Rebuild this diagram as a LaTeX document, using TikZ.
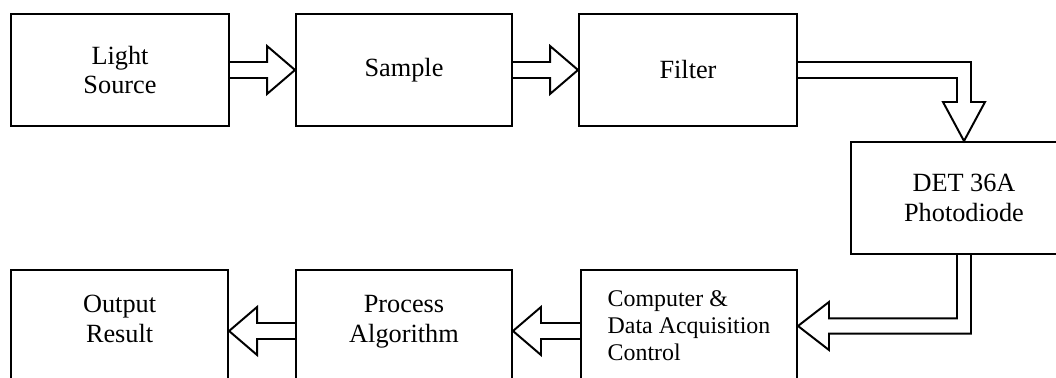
\documentclass[tikz,border=0pt]{standalone}
\usepackage{fontspec}
\setmainfont{Liberation Serif}
\usepackage{tikz}
\usetikzlibrary{calc}

\begin{document}
\begin{tikzpicture}[
        stage/.style={rectangle, draw=black, line width=1.4pt, minimum width=5.45cm, minimum height=2.8cm, align=center, font=\fontsize{18.7}{21.3}\selectfont},
        flow/.style={draw=black, line width=1.4pt, line join=miter}
    ]
    \useasboundingbox (0,0) rectangle (26.4,9.45);
    \clip (0,0) rectangle (26.4,9.45);
    % --- Top row ---
    \node[stage] (light) at (3.0, 7.7) {Light\\Source};
    \node[stage, minimum width=5.4cm] (sample) at (10.1, 7.7) {Sample};
    \node[stage] (filter) at (17.2, 7.7) {Filter};
    % --- Detector ---
    \node[stage, minimum width=5.65cm] (det) at (24.1, 4.5) {DET 36A\\Photodiode};
    % --- Bottom row ---
    \node[stage, minimum width=5.4cm, align=left, font=\fontsize{17}{19.2}\selectfont] (computer) at (17.225, 1.3) {Computer \&\\Data Acquisition\\Control};
    \node[stage, minimum width=5.4cm] (process) at (10.1, 1.3) {Process\\Algorithm\\[-0.4cm]\mbox{}};
    \node[stage, minimum width=5.425cm] (output) at (2.99, 1.3) {Output\\Result\\[-0.4cm]\mbox{}};

    % --- Block arrows ---
    \draw[flow] ($(light.east)+(0,0.2)$) -- ($(sample.west)+(-0.7,0.2)$) -- ++(0,0.4) -- (sample.west) -- ++(-0.7,-0.6) -- ++(0,0.4) -- ($(light.east)+(0,-0.2)$);
    \draw[flow] ($(sample.east)+(0,0.2)$) -- ($(filter.west)+(-0.7,0.2)$) -- ++(0,0.4) -- (filter.west) -- ++(-0.7,-0.6) -- ++(0,0.4) -- ($(sample.east)+(0,-0.2)$);
    \draw[flow] ($(filter.east)+(0,0.2)$) -| ($(det.north)+(0.175,0.975)$) -- ++(0.35,0) -- (det.north) -- ++(-0.525,0.975) -- ++(0.35,0) |- ($(filter.east)+(0,-0.2)$);
    \draw[flow] ($(det.south)+(-0.175,0)$) |- ($(computer.east)+(0.775,0.19)$) -- ++(0,0.41) -- (computer.east) -- ++(0.775,-0.6) -- ++(0,0.41) -| ($(det.south)+(0.175,0)$);
    \draw[flow] ($(computer.west)+(0,0.075)$) -- ($(process.east)+(0.7,0.075)$) -- ++(0,0.4) -- ($(process.east)+(0,-0.125)$) -- ++(0.7,-0.6) -- ++(0,0.4) -- ($(computer.west)+(0,-0.325)$);
    \draw[flow] ($(process.west)+(0,0.075)$) -- ($(output.east)+(0.7,0.075)$) -- ++(0,0.4) -- ($(output.east)+(0,-0.125)$) -- ++(0.7,-0.6) -- ++(0,0.4) -- ($(process.west)+(0,-0.325)$);
\end{tikzpicture}
\end{document}
